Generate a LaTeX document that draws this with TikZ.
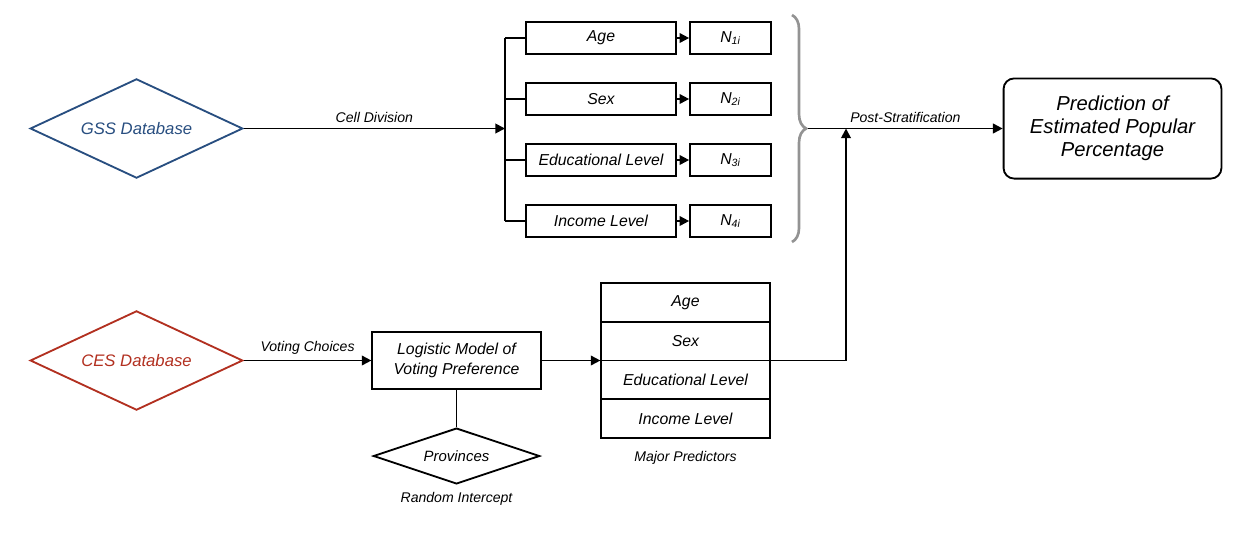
\documentclass[tikz,border=0pt]{standalone}
\usepackage{fontspec}
\setmainfont{Liberation Sans}
\usepackage{xcolor}
\usepackage{tikz}
\usetikzlibrary{arrows.meta,calc,decorations.pathreplacing,shapes.geometric,positioning}
\definecolor{gssblue}{RGB}{40,78,128}
\definecolor{cesred}{RGB}{178,48,32}

\begin{document}
\begin{tikzpicture}[x=0.02cm, y=-0.02cm,
  line/.style={line width=1.05pt},
  arr/.style={line width=1.05pt, -{Triangle[length=5.5pt,width=5.5pt]}},
  cellbox/.style={draw, line width=1.05pt, minimum width=85pt, minimum height=18.5pt,
    inner sep=0pt, font=\fontsize{9}{11}\selectfont\itshape},
  nbox/.style={cellbox, minimum width=46pt},
  rowbox/.style={cellbox, minimum width=95.8pt, minimum height=22pt},
  dbbox/.style={draw, diamond, line width=1.05pt, minimum width=121pt, minimum height=56.5pt,
    aspect=2.14, inner sep=0pt, font=\fontsize{9.5}{11}\selectfont\itshape},
  lab/.style={font=\fontsize{8}{9.5}\selectfont\itshape, inner sep=3pt}]
\useasboundingbox (0,0) rectangle (1248,535);
% GSS branch: cell division
\node[dbbox, draw=gssblue, text=gssblue] (gss) at (136.5,128.5) {GSS Database};
\coordinate (bus) at (505,128.5);
\coordinate (busTop) at (505,38);
\coordinate (busBot) at (505,221);
\draw[arr] (gss) -- node[lab, above] {Cell Division} (bus);
\draw[line] (busTop) -- (busBot);
\foreach \nm/\txt/\y/\k in {age/Age/38/1, sex/Sex/99/2, edu/Educational Level/160/3, inc/Income Level/221/4} {
  \node[cellbox] (\nm) at (601,\y) {\txt};
  \node[nbox] (n\k) at (730.5,\y) {N\textsubscript{\k i}};
  \draw[arr] (\nm) -- (n\k);
  \draw[line] (\nm.west -| bus) -- (\nm.west);
}
% Brace and post-stratification
\coordinate (brTop) at (792,15);
\coordinate (brBot) at (792,242);
\coordinate (brTip) at (808,128.5);
\draw[gray!85, line width=1.5pt, decorate, decoration={brace, amplitude=8pt}]
  (brTop) -- (brBot);
\node[draw, rounded corners=6pt, line width=1.05pt, minimum width=124pt, minimum height=57pt,
  align=center, font=\fontsize{11.5}{13}\selectfont\itshape] (pred) at (1112.5,128.5)
  {Prediction of\\Estimated Popular\\Percentage};
\draw[arr] (brTip) -- node[lab, above] {Post-Stratification} (pred);
\coordinate (merge) at (846,128.5);
% CES branch: logistic model
\node[dbbox, draw=cesred, text=cesred] (ces) at (136.5,360.5) {CES Database};
\node[cellbox, minimum width=95.8pt, minimum height=32.3pt, align=center] (logit) at (456.5,360.5)
  {Logistic Model of\\Voting Preference};
\draw[arr] (ces) -- node[lab, above] {Voting Choices} (logit);
\node[dbbox, minimum width=94.7pt, minimum height=31.8pt, aspect=2.98,
  font=\fontsize{8.5}{10}\selectfont\itshape] (prov) at (456.5,456) {Provinces};
\draw[line] (logit) -- (prov);
\node[lab, below=1pt of prov] (rint) {Random Intercept};
% Major predictors stack
\foreach \nm/\txt [count=\i] in {pAge/Age, pSex/Sex, pEdu/Educational Level, pInc/Income Level} {
  \node[rowbox] (\nm) at (685.5,{283+38.75*(\i-0.5)}) {\txt};
}
\node[lab, below=4pt of pInc] (mpred) {Major Predictors};
\draw[arr] (logit.east) -- (logit.east -| pSex.west);
\draw[arr] (logit.east -| pSex.east) -| (merge);
\end{tikzpicture}
\end{document}
